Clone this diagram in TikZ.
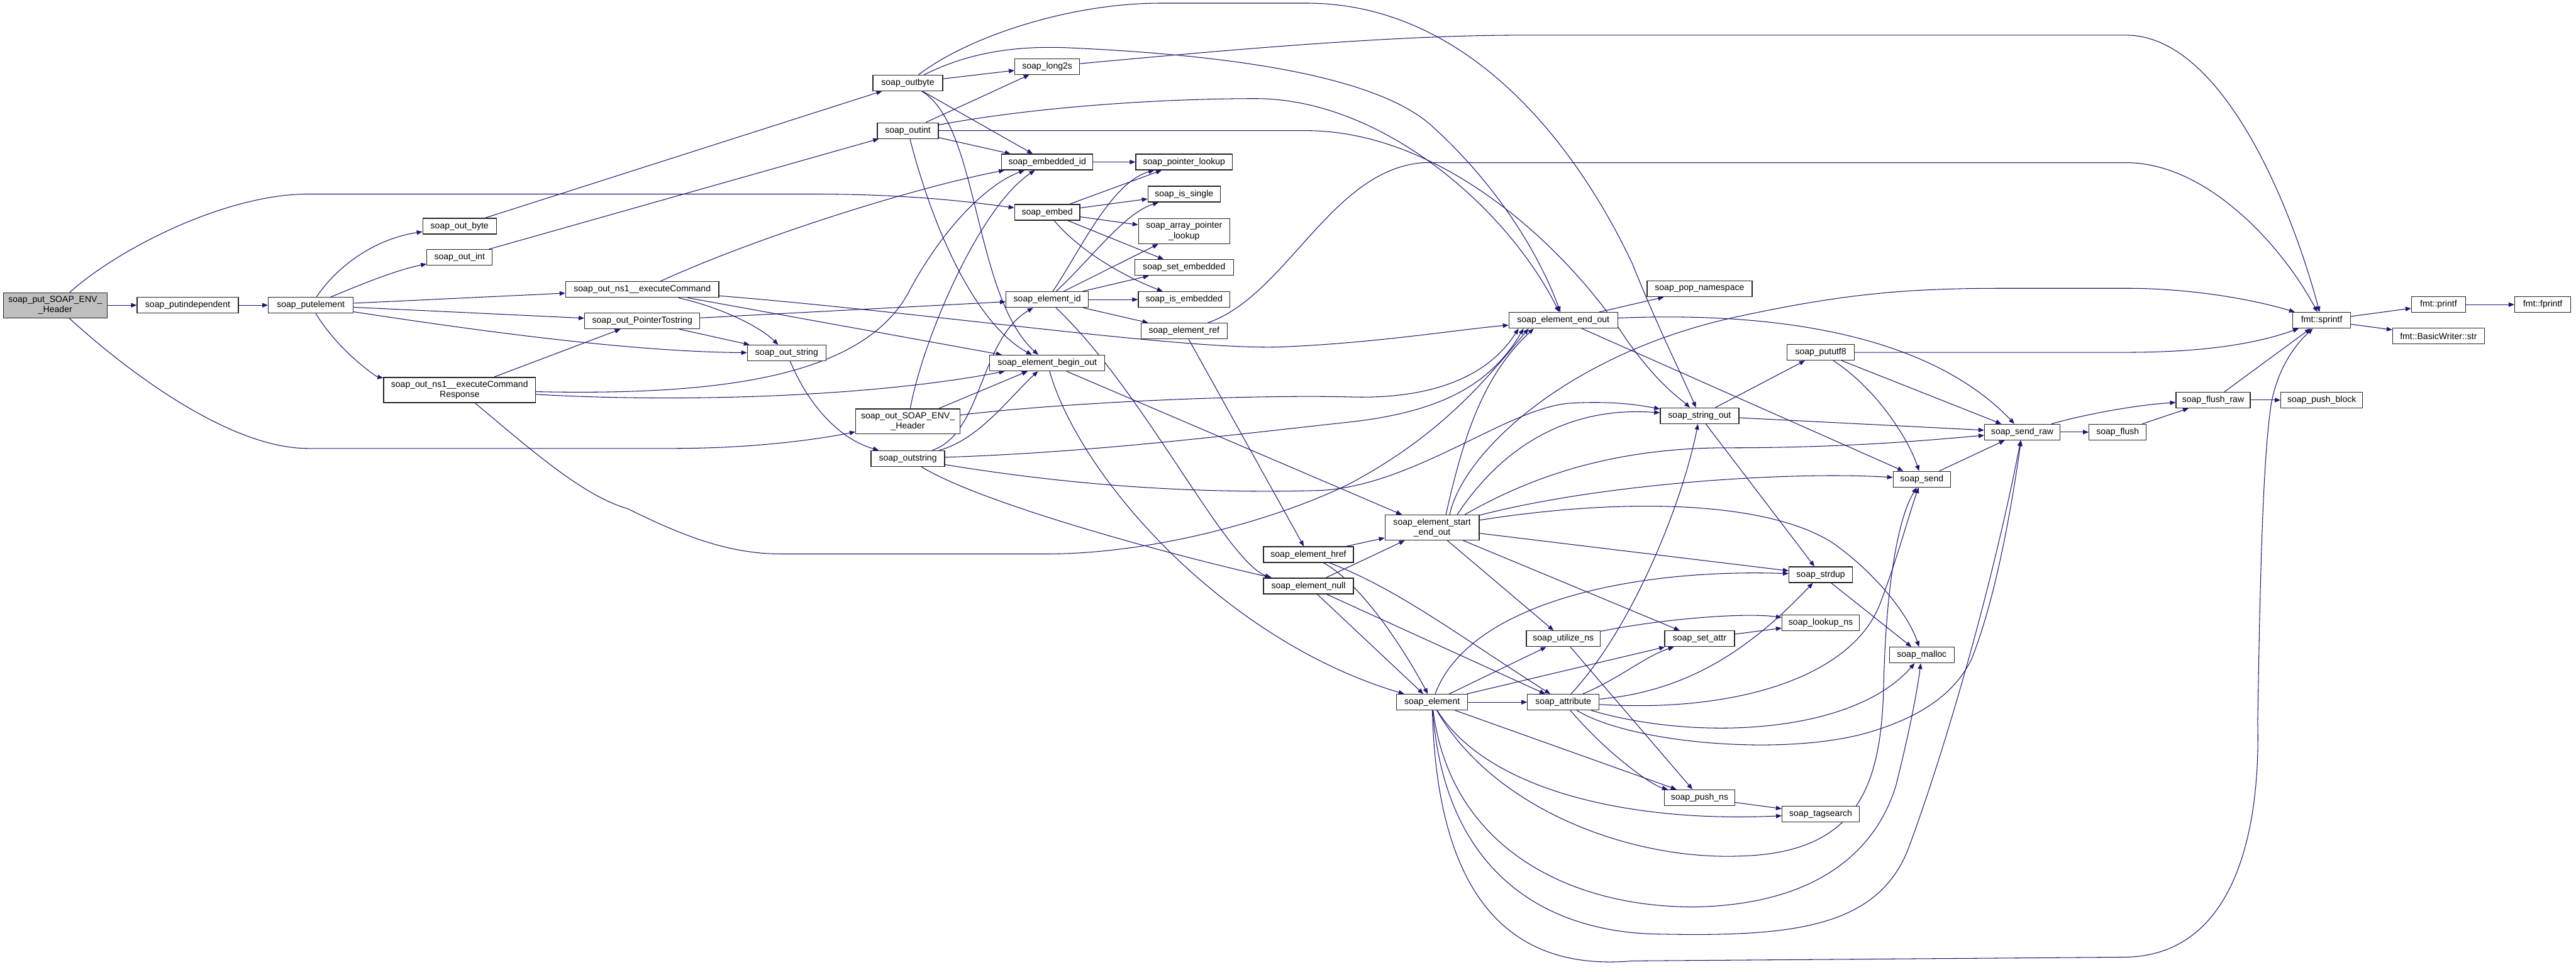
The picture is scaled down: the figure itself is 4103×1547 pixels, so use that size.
\documentclass[tikz,border=0pt]{standalone}
\usepackage{fontspec}
\setmainfont{Liberation Sans}
\usetikzlibrary{arrows.meta, backgrounds}
\definecolor{edgeblue}{HTML}{191970}
\definecolor{boxline}{HTML}{262626}
\definecolor{rootgray}{HTML}{BFBFBF}

\begin{document}
\begin{tikzpicture}[
    x=0.025cm, y=-0.025cm,
    func/.style={rectangle, draw=boxline, fill=white, line width=0.9pt, minimum height=0.625cm, inner xsep=3pt, inner ysep=1pt, align=center, font=\fontsize{10}{11.5}\selectfont},
    func2/.style={func, minimum height=1cm},
    rootfunc/.style={func2, fill=rootgray},
    call/.style={-{Triangle[length=6.4pt,width=5pt]}, color=edgeblue, line width=0.75pt}
]
    \useasboundingbox (0,0) rectangle (4103,1547);

    % Caller side
    \node (root) [rootfunc, minimum width=4.12cm] at (88,486) {soap\_put\_SOAP\_ENV\_\\\_Header};
    \node (putindep) [func, minimum width=4.03cm] at (299,486) {soap\_putindependent};
    \node (putel) [func, minimum width=3.38cm] at (495,486) {soap\_putelement};
    \node (wbyte) [func, minimum width=2.93cm] at (732,360) {soap\_out\_byte};
    \node (wint) [func, minimum width=2.6cm] at (732,410) {soap\_out\_int};
    \node (cmd) [func, minimum width=6.1cm] at (1023,461) {soap\_out\_ns1\_\_executeCommand};
    \node (ptrstr) [func, minimum width=4.58cm] at (1023,511) {soap\_out\_PointerTostring};
    \node (resp) [func2, minimum width=6.05cm] at (732,621) {soap\_out\_ns1\_\_executeCommand\\Response};
    \node (wstring) [func, minimum width=3.13cm] at (1253,562) {soap\_out\_string};

    % Serializers
    \node (outbyte) [func, minimum width=2.78cm] at (1446,132) {soap\_outbyte};
    \node (outint) [func, minimum width=2.43cm] at (1446,208) {soap\_outint};
    \node (envhdr) [func2, minimum width=4.15cm] at (1446,671) {soap\_out\_SOAP\_ENV\_\\\_Header};
    \node (outstring) [func, minimum width=2.93cm] at (1446,730) {soap\_outstring};

    \node (long2s) [func, minimum width=2.58cm] at (1668,106) {soap\_long2s};
    \node (embid) [func, minimum width=3.63cm] at (1668,258) {soap\_embedded\_id};
    \node (embed) [func, minimum width=2.6cm] at (1668,338) {soap\_embed};
    \node (elemid) [func, minimum width=3.28cm] at (1668,477) {soap\_element\_id};
    \node (beginout) [func, minimum width=4.58cm] at (1668,578) {soap\_element\_begin\_out};

    \node (ptrlookup) [func, minimum width=3.85cm] at (1886,258) {soap\_pointer\_lookup};
    \node (issingle) [func, minimum width=2.88cm] at (1886,309) {soap\_is\_single};
    \node (arrlookup) [func2, minimum width=3.63cm] at (1886,368) {soap\_array\_pointer\\\_lookup};
    \node (setemb) [func, minimum width=3.93cm] at (1886,426) {soap\_set\_embedded};
    \node (isemb) [func, minimum width=3.65cm] at (1886,477) {soap\_is\_embedded};
    \node (elemref) [func, minimum width=3.43cm] at (1886,527) {soap\_element\_ref};

    % Element writers
    \node (href) [func, minimum width=3.58cm] at (2084,883) {soap\_element\_href};
    \node (null) [func, minimum width=3.58cm] at (2084,933) {soap\_element\_null};
    \node (startend) [func2, minimum width=3.75cm] at (2281,840) {soap\_element\_start\\\_end\_out};
    \node (element) [func, minimum width=2.83cm] at (2281,1118) {soap\_element};
    \node (endout) [func, minimum width=4.33cm] at (2490,510) {soap\_element\_end\_out};
    \node (utilize) [func, minimum width=2.95cm] at (2490,1017) {soap\_utilize\_ns};
    \node (attribute) [func, minimum width=2.85cm] at (2490,1118) {soap\_attribute};

    \node (popns) [func, minimum width=4.18cm] at (2707,460) {soap\_pop\_namespace};
    \node (stringout) [func, minimum width=3.13cm] at (2707,662) {soap\_string\_out};
    \node (setattr) [func, minimum width=2.78cm] at (2707,1017) {soap\_set\_attr};
    \node (pushns) [func, minimum width=2.8cm] at (2707,1270) {soap\_push\_ns};

    \node (pututf8) [func, minimum width=2.68cm] at (2900,561) {soap\_pututf8};
    \node (strdup) [func, minimum width=2.53cm] at (2900,915) {soap\_strdup};
    \node (lookupns) [func, minimum width=3.08cm] at (2900,992) {soap\_lookup\_ns};
    \node (tagsearch) [func, minimum width=3.08cm] at (2900,1296) {soap\_tagsearch};

    % Output layer
    \node (send) [func, minimum width=2.28cm] at (3061,763) {soap\_send};
    \node (malloc) [func, minimum width=2.58cm] at (3061,1043) {soap\_malloc};
    \node (sendraw) [func, minimum width=3.0cm] at (3221,688) {soap\_send\_raw};
    \node (flush) [func, minimum width=2.28cm] at (3373,688) {soap\_flush};
    \node (flushraw) [func, minimum width=2.95cm] at (3525,637) {soap\_flush\_raw};
    \node (pushblock) [func, minimum width=3.25cm] at (3698,637) {soap\_push\_block};
    \node (sprintf) [func, minimum width=2.3cm] at (3698,510) {fmt::sprintf};
    \node (printf) [func, minimum width=2.15cm] at (3884,485) {fmt::printf};
    \node (bwstr) [func, minimum width=3.65cm] at (3884,535) {fmt::BasicWriter::str};
    \node (fprintf) [func, minimum width=2.23cm] at (4050,485) {fmt::fprintf};

    \begin{scope}[on background layer]
    % Calls from the root and the putelement chain
    \draw [call] (root) -- (putindep);
    \draw [call] (root) .. controls (190,395) and (360,309) .. (491,309) -- (1295,309) .. controls (1450,309) and (1550,322) .. (embed);
    \draw [call] (root) .. controls (190,580) and (360,714) .. (491,714) -- (1070,714) .. controls (1200,714) and (1300,700) .. (envhdr);
    \draw [call] (putindep) -- (putel);
    \draw [call] (putel) .. controls (540,420) and (600,380) .. (wbyte);
    \draw [call] (putel) .. controls (570,455) and (630,430) .. (wint);
    \draw [call] (putel) -- (cmd);
    \draw [call] (putel) -- (ptrstr);
    \draw [call] (putel) .. controls (750,525) and (1000,560) .. (wstring);
    \draw [call] (putel) .. controls (540,560) and (600,600) .. (resp);
    \draw [call] (wbyte) -- (outbyte);
    \draw [call] (wint) -- (outint);

    % Generated serializers
    \draw [call] (cmd) .. controls (1200,380) and (1450,300) .. (embid);
    \draw [call] (cmd) .. controls (1150,490) and (1210,520) .. (wstring);
    \draw [call] (cmd) -- (beginout);
    \draw [call] (cmd) .. controls (1500,500) and (1900,560) .. (2050,552) .. controls (2200,545) and (2320,525) .. (endout);
    \draw [call] (ptrstr) -- (elemid);
    \draw [call] (ptrstr) -- (wstring);
    \draw [call] (wstring) .. controls (1290,650) and (1340,700) .. (outstring);
    \draw [call] (resp) -- (ptrstr);
    \draw [call] (resp) .. controls (1150,630) and (1380,600) .. (1450,460) .. controls (1510,350) and (1580,290) .. (embid);
    \draw [call] (resp) .. controls (1100,642) and (1400,630) .. (beginout);
    \draw [call] (resp) .. controls (850,720) and (930,790) .. (1000,810) .. controls (1100,860) and (1170,882) .. (1245,882) -- (1666,882) .. controls (1850,882) and (2050,820) .. (2150,770) .. controls (2300,690) and (2370,600) .. ([xshift=0.8cm]endout.south west);
    \draw [call] (envhdr) .. controls (1470,540) and (1560,330) .. (embid);
    \draw [call] (envhdr) -- (beginout);
    \draw [call] (envhdr) .. controls (1700,640) and (2000,628) .. (2150,632) .. controls (2280,636) and (2370,600) .. ([xshift=0.4cm]endout.south west);

    \draw [call] (outstring) .. controls (1565,690) and (1560,540) .. (elemid);
    \draw [call] (outstring) .. controls (1560,700) and (1610,630) .. (beginout);
    \draw [call] (outstring) .. controls (1750,720) and (1980,690) .. (2150,672) .. controls (2300,655) and (2375,610) .. ([xshift=0.6cm]endout.south west);
    \draw [call] (outstring) .. controls (1750,780) and (1950,785) .. (2100,781) .. controls (2250,775) and (2400,650) .. (2500,642) .. controls (2570,638) and (2610,645) .. (stringout);
    \draw [call] (outstring) .. controls (1560,800) and (1850,880) .. (null);

    \draw [call] (outbyte) -- (long2s);
    \draw [call] (outbyte) -- (embid);
    \draw [call] (outbyte) .. controls (1560,200) and (1550,470) .. (beginout);
    \draw [call] (outbyte) .. controls (1540,60) and (1700,5) .. (1850,5) -- (2080,5) .. controls (2350,5) and (2520,250) .. (2600,420) .. controls (2640,520) and (2680,600) .. (stringout);
    \draw [call] (outbyte) .. controls (1530,90) and (1600,72) .. (1700,76) .. controls (1900,85) and (2180,110) .. (2280,200) .. controls (2380,290) and (2450,400) .. (endout);
    \draw [call] (outint) -- (long2s);
    \draw [call] (outint) -- (embid);
    \draw [call] (outint) .. controls (1490,380) and (1560,520) .. (beginout);
    \draw [call] (outint) .. controls (1650,170) and (1850,157) .. (2000,157) .. controls (2200,157) and (2400,330) .. (endout);
    \draw [call] (outint) -- (2080,208) .. controls (2300,208) and (2500,400) .. (2590,540) .. controls (2640,610) and (2670,630) .. (stringout);
    \draw [call] (long2s) .. controls (1900,85) and (2200,56) .. (2421,56) -- (3386,56) .. controls (3540,56) and (3650,330) .. (sprintf);

    % Pointer bookkeeping
    \draw [call] (embid) -- (ptrlookup);
    \draw [call] (embed) -- (ptrlookup);
    \draw [call] (embed) -- (issingle);
    \draw [call] (embed) -- (arrlookup);
    \draw [call] (embed) -- (setemb);
    \draw [call] (embed) .. controls (1720,400) and (1790,440) .. (isemb);
    \draw [call] (elemid) .. controls (1720,400) and (1770,290) .. (ptrlookup);
    \draw [call] (elemid) .. controls (1740,410) and (1790,340) .. (issingle);
    \draw [call] (elemid) -- (arrlookup);
    \draw [call] (elemid) -- (setemb);
    \draw [call] (elemid) -- (isemb);
    \draw [call] (elemid) -- (elemref);
    \draw [call] (elemid) .. controls (1820,620) and (1950,890) .. ([xshift=0.3cm]null.north west);
    \draw [call] (elemref) -- (href);
    \draw [call] (elemref) .. controls (2050,470) and (2120,270) .. (2267,259) -- (3386,259) .. controls (3520,259) and (3640,400) .. (sprintf);

    % Element begin / end
    \draw [call] (beginout) .. controls (1720,760) and (1950,1020) .. (element);
    \draw [call] (beginout) -- (startend);
    \draw [call] (endout) -- (popns);
    \draw [call] (endout) .. controls (2850,495) and (3080,540) .. (sendraw);
    \draw [call] (endout) -- (send);
    \draw [call] (href) -- (startend);
    \draw [call] (href) .. controls (2170,930) and (2240,1040) .. (element);
    \draw [call] (href) .. controls (2230,940) and (2320,1010) .. (attribute);
    \draw [call] (null) -- (startend);
    \draw [call] (null) -- (element);
    \draw [call] (null) -- (attribute);

    \draw [call] ([xshift=0.55cm]startend.north) .. controls (2330,700) and (2360,600) .. ([xshift=1.0cm]endout.south west);
    \draw [call] ([xshift=1.0cm]startend.north) .. controls (2380,730) and (2480,645) .. (stringout);
    \draw [call] ([xshift=0.7cm]startend.north) .. controls (2330,720) and (2500,560) .. (2773,503) .. controls (2950,465) and (3050,459) .. (3200,459) -- (3386,459) .. controls (3500,459) and (3600,480) .. (sprintf);
    \draw [call] ([xshift=1.3cm]startend.north) .. controls (2420,770) and (2550,713) .. (2750,713) .. controls (2950,713) and (3080,700) .. (sendraw);
    \draw [call] (startend) .. controls (2550,770) and (2850,750) .. (send);
    \draw [call] (startend) .. controls (2600,790) and (2820,800) .. (2920,865) .. controls (2990,915) and (3040,980) .. (malloc);
    \draw [call] (startend) -- (strdup);
    \draw [call] (startend) -- (utilize);
    \draw [call] (startend) -- (setattr);

    % soap_element
    \draw [call] (element) -- (attribute);
    \draw [call] (element) -- (utilize);
    \draw [call] (element) -- (setattr);
    \draw [call] (element) .. controls (2340,960) and (2600,905) .. (strdup);
    \draw [call] (element) -- (pushns);
    \draw [call] (element) .. controls (2370,1260) and (2600,1310) .. (tagsearch);
    \draw [call] (element) .. controls (2380,1290) and (2600,1370) .. (2772,1363) .. controls (2960,1358) and (2995,1250) .. (3000,1100) .. controls (3003,950) and (3020,830) .. (send);
    \draw [call] (element) .. controls (2310,1350) and (2500,1445) .. (2700,1444) .. controls (2900,1440) and (2990,1350) .. (3020,1250) .. controls (3045,1150) and (3055,1090) .. (malloc);
    \draw [call] (element) .. controls (2300,1380) and (2450,1480) .. (2630,1487) .. controls (2850,1492) and (2990,1480) .. (3040,1350) .. controls (3110,1160) and (3180,900) .. (sendraw);
    \draw [call] (element) .. controls (2290,1460) and (2430,1545) .. (2600,1530) -- (3386,1524) .. controls (3570,1520) and (3600,1300) .. (3596,1150) .. controls (3600,900) and (3605,720) .. (3618,640) .. controls (3630,580) and (3660,545) .. (sprintf);

    % soap_attribute
    \draw [call] (attribute) .. controls (2600,1000) and (2680,800) .. (stringout);
    \draw [call] (attribute) .. controls (2580,1080) and (2620,1045) .. (setattr);
    \draw [call] (attribute) .. controls (2700,1100) and (2800,1020) .. (strdup);
    \draw [call] (attribute) .. controls (2760,1135) and (2950,1080) .. (2995,960) .. controls (3025,880) and (3040,820) .. (send);
    \draw [call] (attribute) .. controls (2700,1180) and (2950,1170) .. (malloc);
    \draw [call] (attribute) .. controls (2600,1185) and (2850,1205) .. (2980,1165) .. controls (3080,1135) and (3120,1090) .. (3140,1050) .. controls (3180,950) and (3205,800) .. (sendraw);
    \draw [call] (attribute) .. controls (2560,1200) and (2630,1250) .. (pushns);

    % Namespaces and memory
    \draw [call] (utilize) .. controls (2650,985) and (2780,975) .. (lookupns);
    \draw [call] (utilize) -- (pushns);
    \draw [call] (setattr) -- (lookupns);
    \draw [call] (strdup) -- (malloc);
    \draw [call] (pushns) -- (tagsearch);

    % String output and the send path
    \draw [call] (stringout) -- (pututf8);
    \draw [call] (stringout) -- (sendraw);
    \draw [call] (stringout) -- (strdup);
    \draw [call] (pututf8) -- (3386,561) .. controls (3520,561) and (3600,545) .. (sprintf);
    \draw [call] (pututf8) -- (sendraw);
    \draw [call] (pututf8) .. controls (2990,620) and (3040,700) .. (send);
    \draw [call] (send) -- (sendraw);
    \draw [call] (sendraw) -- (flush);
    \draw [call] (sendraw) .. controls (3320,660) and (3400,645) .. (flushraw);
    \draw [call] (flush) -- (flushraw);
    \draw [call] (flushraw) -- (pushblock);
    \draw [call] (flushraw) -- (sprintf);
    \draw [call] (sprintf) -- (printf);
    \draw [call] (sprintf) -- (bwstr);
    \draw [call] (printf) -- (fprintf);
    \end{scope}

\end{tikzpicture}
\end{document}
